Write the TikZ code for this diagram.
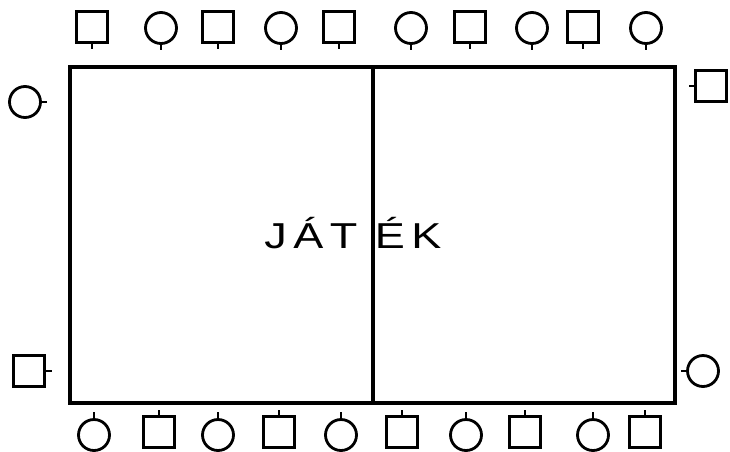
\documentclass[tikz,border=0pt]{standalone}
\usepackage{fontspec}
\setsansfont{Liberation Sans}
\usepackage{tikz}
\usetikzlibrary{positioning}

\tikzset{
	negyzet/.style={draw, line width=1.6pt, rectangle, minimum size=0.62cm, inner sep=0pt},
	kor/.style={draw, line width=1.6pt, circle, minimum size=0.62cm, inner sep=0pt},
	szar/.style={line width=1.6pt},
	palya/.style={line width=2pt}
}

\begin{document}
\begin{tikzpicture}[x=0.02cm, y=-0.02cm]
				\useasboundingbox (0,0) rectangle (730,451);
				
				% Palya es felezovonal
				\draw[palya] (70,67) rectangle (675,403);
				\coordinate (felezo fent) at (373,67);
				\coordinate (felezo lent) at (373,403);
				\draw[palya] (felezo fent) -- (felezo lent);
				\node[font=\sffamily\fontsize{20.5}{24}\selectfont\addfontfeature{FakeStretch=1.25,LetterSpace=18}, anchor=base west, inner sep=0pt] (felirat) at (264,248) {JÁT\kern10ptÉK};
				
				% Felso sor
				\node[negyzet] (f1) at (92,27) {};
				\node[kor] (f2) at (161,28) {};
				\node[negyzet] (f3) at (218,27) {};
				\node[kor] (f4) at (281,28) {};
				\node[negyzet] (f5) at (339,27) {};
				\node[kor] (f6) at (411,28) {};
				\node[negyzet] (f7) at (470,27) {};
				\node[kor] (f8) at (532,28) {};
				\node[negyzet] (f9) at (583,27) {};
				\node[kor] (f10) at (646,28) {};
				\draw[szar] (f1.south) -- ++(0,5);
				\draw[szar] (f2.south) -- ++(0,5);
				\draw[szar] (f3.south) -- ++(0,5);
				\draw[szar] (f4.south) -- ++(0,5);
				\draw[szar] (f5.south) -- ++(0,5);
				\draw[szar] (f6.south) -- ++(0,5);
				\draw[szar] (f7.south) -- ++(0,5);
				\draw[szar] (f8.south) -- ++(0,5);
				\draw[szar] (f9.south) -- ++(0,5);
				\draw[szar] (f10.south) -- ++(0,5);
				
				% Also sor
				\node[kor] (a1) at (94,435) {};
				\node[negyzet] (a2) at (159,432) {};
				\node[kor] (a3) at (218,435) {};
				\node[negyzet] (a4) at (279,432) {};
				\node[kor] (a5) at (341,435) {};
				\node[negyzet] (a6) at (402,432) {};
				\node[kor] (a7) at (466,435) {};
				\node[negyzet] (a8) at (525,432) {};
				\node[kor] (a9) at (593,435) {};
				\node[negyzet] (a10) at (645,432) {};
				\draw[szar] (a1.north) -- ++(0,-6);
				\draw[szar] (a2.north) -- ++(0,-5);
				\draw[szar] (a3.north) -- ++(0,-6);
				\draw[szar] (a4.north) -- ++(0,-5);
				\draw[szar] (a5.north) -- ++(0,-6);
				\draw[szar] (a6.north) -- ++(0,-5);
				\draw[szar] (a7.north) -- ++(0,-6);
				\draw[szar] (a8.north) -- ++(0,-5);
				\draw[szar] (a9.north) -- ++(0,-6);
				\draw[szar] (a10.north) -- ++(0,-5);
				
				% Oldalso jatekosok
				\node[kor] (b1) at (25,102) {};
				\node[negyzet] (b2) at (29,371) {};
				\node[negyzet] (j1) at (711,86) {};
				\node[kor] (j2) at (703,371) {};
				\draw[szar] (b1.east) -- ++(5,0);
				\draw[szar] (b2.east) -- ++(6,0);
				\draw[szar] (j1.west) -- ++(-5,0);
				\draw[szar] (j2.west) -- ++(-5,0);
			\end{tikzpicture}
\end{document}
